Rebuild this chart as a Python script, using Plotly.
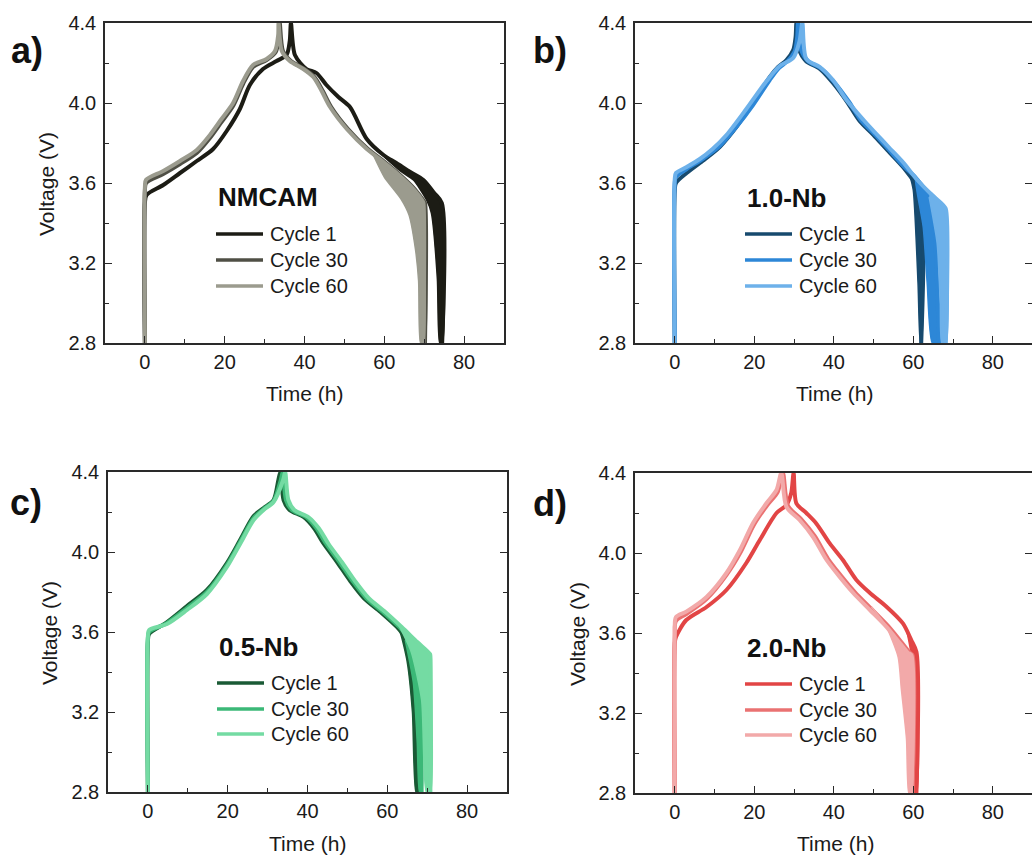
import plotly.graph_objects as go

W, H = 1032, 856
FONT = "Liberation Sans, Arial, sans-serif"

cycle_names = ["Cycle 1", "Cycle 30", "Cycle 60"]
panel_letters = ["a)", "b)", "c)", "d)"]
sample_names = ["NMCAM", "1.0-Nb", "0.5-Nb", "2.0-Nb"]
x_ticks = [0, 20, 40, 60, 80]
y_ticks = [2.8, 3.2, 3.6, 4.0, 4.4]

# ---------------- NMCAM ----------------
nmcam_c1_chg_t = [0, 0, 0.4, 4.6, 8.8, 13.0, 17.1, 20.5, 23.8, 26.3, 29.6, 33.0, 35.5, 36.3, 36.6]
nmcam_c1_chg_v = [2.80, 3.50, 3.54, 3.59, 3.65, 3.71, 3.77, 3.86, 3.97, 4.09, 4.17, 4.21, 4.24, 4.31, 4.40]
nmcam_c1_dis_t = [37.6, 40.5, 43.0, 45.5, 48.5, 51.4, 55.6, 59.8, 63.0, 66.5, 69.8, 72.5, 74.4, 74.5]
nmcam_c1_dis_v = [4.24, 4.17, 4.15, 4.09, 4.03, 3.98, 3.82, 3.74, 3.70, 3.655, 3.615, 3.55, 3.50, 2.80]
nmcam_c1_end_t = [60.0, 64.0, 67.3, 70.6, 71.8, 73.3, 73.9]
nmcam_c1_end_v = [3.73, 3.66, 3.615, 3.515, 3.45, 3.12, 2.80]

nmcam_c30_chg_t = [0, 0, 0.3, 4.6, 8.8, 13.0, 16.3, 19.2, 22.1, 24.6, 27.1, 30.5, 32.8, 33.6, 33.8]
nmcam_c30_chg_v = [2.80, 3.56, 3.60, 3.645, 3.695, 3.75, 3.825, 3.905, 3.985, 4.095, 4.18, 4.215, 4.255, 4.33, 4.40]
nmcam_c30_dis_t = [34.6, 36.6, 40.0, 42.5, 44.6, 46.7, 50.9, 55.9, 59.8, 63.4, 67.6, 69.9, 70.2, 70.2]
nmcam_c30_dis_v = [4.26, 4.21, 4.17, 4.13, 4.06, 3.98, 3.87, 3.77, 3.71, 3.65, 3.57, 3.51, 3.50, 2.80]
nmcam_c30_end_t = [68.5, 69.3, 69.8]
nmcam_c30_end_v = [3.54, 3.20, 2.80]

nmcam_c60_chg_t = [0, 0, 0.25, 4.6, 8.8, 13.0, 16.3, 19.2, 22.1, 24.6, 27.1, 30.5, 32.6, 33.4, 33.5]
nmcam_c60_chg_v = [2.80, 3.58, 3.615, 3.66, 3.71, 3.765, 3.84, 3.92, 4.00, 4.11, 4.19, 4.22, 4.26, 4.34, 4.40]
nmcam_c60_dis_t = [34.3, 36.3, 39.7, 42.2, 44.3, 46.4, 50.6, 55.6, 59.5, 63.1, 67.3, 69.6, 69.8, 69.8]
nmcam_c60_dis_v = [4.26, 4.21, 4.17, 4.13, 4.06, 3.98, 3.87, 3.77, 3.71, 3.65, 3.57, 3.51, 3.50, 2.80]
nmcam_c60_end_t = [57.0, 60.0, 64.2, 66.2, 67.8, 68.6, 69.1]
nmcam_c60_end_v = [3.75, 3.63, 3.52, 3.44, 3.27, 3.11, 2.80]

# ---------------- 1.0-Nb ----------------
nb10_c1_chg_t = [0, 0, 0.3, 3.0, 7.0, 11.3, 15.5, 19.7, 23.9, 26.0, 28.1, 29.8, 30.4, 30.6]
nb10_c1_chg_v = [2.80, 3.56, 3.60, 3.65, 3.71, 3.78, 3.88, 4.00, 4.13, 4.18, 4.215, 4.265, 4.33, 4.40]
nb10_c1_dis_t = [31.2, 33.0, 36.5, 39.8, 43.2, 46.5, 50.0, 53.2, 57.4, 60.5, 62.0, 62.0]
nb10_c1_dis_v = [4.27, 4.21, 4.17, 4.10, 4.01, 3.91, 3.84, 3.77, 3.68, 3.60, 3.56, 2.80]
nb10_c1_end_t = [59.0, 60.0, 61.2, 61.8]
nb10_c1_end_v = [3.65, 3.565, 3.10, 2.80]

nb10_c30_chg_t = [0, 0, 0.3, 3.0, 7.0, 11.3, 15.5, 19.7, 23.9, 26.2, 28.4, 30.2, 30.8, 31.0]
nb10_c30_chg_v = [2.80, 3.60, 3.63, 3.67, 3.72, 3.785, 3.88, 3.99, 4.115, 4.175, 4.21, 4.26, 4.33, 4.40]
nb10_c30_dis_t = [31.7, 33.5, 37.0, 40.3, 43.7, 47.0, 50.5, 53.7, 57.8, 60.5, 62.5, 64.5, 65.2, 65.7, 66.5]
nb10_c30_dis_v = [4.27, 4.21, 4.17, 4.10, 4.01, 3.91, 3.84, 3.77, 3.68, 3.63, 3.58, 3.53, 3.45, 3.26, 2.80]
nb10_c30_end_t = [60.5, 62.5, 63.5, 64.8]
nb10_c30_end_v = [3.63, 3.38, 3.10, 2.80]

nb10_c60_chg_t = [0, 0, 0.3, 3.0, 6.3, 9.5, 13.0, 18.0, 23.1, 26.4, 29.8, 31.4, 32.1]
nb10_c60_chg_v = [2.80, 3.62, 3.65, 3.68, 3.72, 3.77, 3.84, 3.97, 4.11, 4.185, 4.225, 4.31, 4.40]
nb10_c60_dis_t = [33.1, 36.5, 39.8, 43.2, 47.5, 50.5, 53.8, 57.6, 60.8, 64.2, 67.5, 68.2, 68.2]
nb10_c60_dis_v = [4.22, 4.18, 4.115, 4.015, 3.915, 3.85, 3.78, 3.70, 3.62, 3.55, 3.49, 3.47, 2.80]
nb10_c60_end_t = [64.0, 66.0, 66.8, 67.2]
nb10_c60_end_v = [3.53, 3.30, 3.00, 2.80]

# ---------------- 0.5-Nb ----------------
nb05_c1_chg_t = [0, 0, 0.3, 4.8, 9.8, 14.8, 19.8, 23.1, 26.5, 29.0, 31.5, 32.7, 33.2]
nb05_c1_chg_v = [2.80, 3.55, 3.59, 3.65, 3.73, 3.81, 3.945, 4.06, 4.18, 4.22, 4.26, 4.36, 4.40]
nb05_c1_dis_t = [34.0, 35.5, 39.0, 41.6, 44.1, 47.4, 50.7, 54.1, 58.3, 62.4, 64.5, 66.5, 67.2, 67.8]
nb05_c1_dis_v = [4.26, 4.21, 4.175, 4.12, 4.04, 3.95, 3.855, 3.77, 3.70, 3.625, 3.57, 3.46, 3.30, 2.80]
nb05_c1_end_t = [62.0, 63.2, 65.0, 66.3, 67.2]
nb05_c1_end_v = [3.64, 3.60, 3.45, 3.20, 2.80]

nb05_c30_chg_t = [0, 0, 0.3, 4.8, 9.8, 14.8, 19.8, 23.1, 26.5, 29.0, 31.5, 33.3, 33.8]
nb05_c30_chg_v = [2.80, 3.57, 3.60, 3.645, 3.72, 3.80, 3.935, 4.05, 4.17, 4.215, 4.255, 4.36, 4.40]
nb05_c30_dis_t = [34.6, 36.1, 39.6, 42.2, 44.7, 48.0, 51.3, 54.7, 58.9, 63.0, 66.0, 67.5, 68.3, 68.6]
nb05_c30_dis_v = [4.26, 4.21, 4.175, 4.12, 4.04, 3.95, 3.855, 3.77, 3.70, 3.625, 3.55, 3.48, 3.30, 2.80]
nb05_c30_end_t = [64.5, 66.5, 67.5, 68.1]
nb05_c30_end_v = [3.56, 3.35, 3.05, 2.80]

nb05_c60_chg_t = [0, 0, 0.3, 4.8, 9.8, 14.8, 19.8, 23.1, 26.5, 29.0, 31.5, 33.9, 34.4]
nb05_c60_chg_v = [2.80, 3.58, 3.61, 3.64, 3.71, 3.79, 3.925, 4.04, 4.16, 4.21, 4.25, 4.36, 4.40]
nb05_c60_dis_t = [35.2, 36.7, 40.2, 42.8, 45.3, 48.6, 51.9, 55.3, 59.5, 63.6, 67.5, 70.7, 70.8, 70.8]
nb05_c60_dis_v = [4.26, 4.21, 4.175, 4.12, 4.04, 3.95, 3.855, 3.77, 3.70, 3.625, 3.55, 3.49, 3.48, 2.80]
nb05_c60_end_t = [63.0, 66.0, 68.6, 69.8]
nb05_c60_end_v = [3.63, 3.50, 3.26, 2.80]

# ---------------- 2.0-Nb ----------------
nb20_c1_chg_t = [0, 0, 0.3, 2.9, 8.0, 13.0, 18.0, 21.4, 25.6, 28.1, 29.3, 29.9]
nb20_c1_chg_v = [2.80, 3.55, 3.58, 3.665, 3.73, 3.815, 3.95, 4.065, 4.20, 4.24, 4.30, 4.40]
nb20_c1_dis_t = [30.6, 33.1, 35.6, 39.0, 42.3, 45.7, 49.1, 53.2, 57.4, 59.5, 60.8, 60.8]
nb20_c1_dis_v = [4.248, 4.20, 4.148, 4.048, 3.965, 3.865, 3.80, 3.733, 3.648, 3.565, 3.505, 2.80]
nb20_c1_end_t = [58.5, 59.8, 60.2]
nb20_c1_end_v = [3.60, 3.45, 2.80]

nb20_c30_chg_t = [0, 0, 0.3, 2.9, 8.0, 13.0, 16.6, 19.9, 23.3, 25.9, 27.2]
nb20_c30_chg_v = [2.80, 3.58, 3.66, 3.695, 3.77, 3.89, 4.005, 4.14, 4.24, 4.305, 4.40]
nb20_c30_dis_t = [28.5, 31.8, 35.2, 38.6, 41.9, 45.3, 49.5, 53.6, 57.0, 59.2, 59.8, 59.8]
nb20_c30_dis_v = [4.235, 4.17, 4.085, 3.97, 3.885, 3.805, 3.72, 3.637, 3.555, 3.50, 3.49, 2.80]
nb20_c30_end_t = [57.0, 58.6, 59.3]
nb20_c30_end_v = [3.555, 3.20, 2.80]

nb20_c60_chg_t = [0, 0, 0.3, 2.9, 8.0, 13.0, 16.4, 19.7, 23.1, 25.6, 26.8]
nb20_c60_chg_v = [2.80, 3.60, 3.68, 3.707, 3.78, 3.90, 4.015, 4.15, 4.25, 4.315, 4.40]
nb20_c60_dis_t = [28.1, 31.4, 34.8, 38.2, 41.5, 44.9, 49.1, 53.2, 56.6, 58.7, 59.5, 59.5]
nb20_c60_dis_v = [4.23, 4.165, 4.08, 3.965, 3.88, 3.80, 3.715, 3.632, 3.55, 3.50, 3.49, 2.80]
nb20_c60_end_t = [49.5, 53.0, 56.2, 57.0, 58.3, 58.9]
nb20_c60_end_v = [3.73, 3.64, 3.48, 3.32, 3.07, 2.80]

# line colours per sample: cycle 1, cycle 30, cycle 60
nmcam_colors = ["#1c1c15", "#4f4f45", "#9b9b8e"]
nb10_colors = ["#174a6e", "#2d87d7", "#6db1ea"]
nb05_colors = ["#1a5a35", "#3bb877", "#74dba3"]
nb20_colors = ["#e24545", "#ea7272", "#f2a9a9"]

panels = [
    dict(colors=nmcam_colors, cycles=[
        (nmcam_c1_chg_t, nmcam_c1_chg_v, nmcam_c1_dis_t, nmcam_c1_dis_v, nmcam_c1_end_t, nmcam_c1_end_v),
        (nmcam_c30_chg_t, nmcam_c30_chg_v, nmcam_c30_dis_t, nmcam_c30_dis_v, nmcam_c30_end_t, nmcam_c30_end_v),
        (nmcam_c60_chg_t, nmcam_c60_chg_v, nmcam_c60_dis_t, nmcam_c60_dis_v, nmcam_c60_end_t, nmcam_c60_end_v)]),
    dict(colors=nb10_colors, cycles=[
        (nb10_c1_chg_t, nb10_c1_chg_v, nb10_c1_dis_t, nb10_c1_dis_v, nb10_c1_end_t, nb10_c1_end_v),
        (nb10_c30_chg_t, nb10_c30_chg_v, nb10_c30_dis_t, nb10_c30_dis_v, nb10_c30_end_t, nb10_c30_end_v),
        (nb10_c60_chg_t, nb10_c60_chg_v, nb10_c60_dis_t, nb10_c60_dis_v, nb10_c60_end_t, nb10_c60_end_v)]),
    dict(colors=nb05_colors, cycles=[
        (nb05_c1_chg_t, nb05_c1_chg_v, nb05_c1_dis_t, nb05_c1_dis_v, nb05_c1_end_t, nb05_c1_end_v),
        (nb05_c30_chg_t, nb05_c30_chg_v, nb05_c30_dis_t, nb05_c30_dis_v, nb05_c30_end_t, nb05_c30_end_v),
        (nb05_c60_chg_t, nb05_c60_chg_v, nb05_c60_dis_t, nb05_c60_dis_v, nb05_c60_end_t, nb05_c60_end_v)]),
    dict(colors=nb20_colors, cycles=[
        (nb20_c1_chg_t, nb20_c1_chg_v, nb20_c1_dis_t, nb20_c1_dis_v, nb20_c1_end_t, nb20_c1_end_v),
        (nb20_c30_chg_t, nb20_c30_chg_v, nb20_c30_dis_t, nb20_c30_dis_v, nb20_c30_end_t, nb20_c30_end_v),
        (nb20_c60_chg_t, nb20_c60_chg_v, nb20_c60_dis_t, nb20_c60_dis_v, nb20_c60_end_t, nb20_c60_end_v)]),
]

# plot boxes in pixels: left, right, top, bottom, x-range upper limit
boxes = [
    (105, 504, 23, 343, 90.0),
    (635, 1032, 23, 343, 89.87),
    (108, 507, 472, 792, 90.0),
    (635, 1032, 473, 793, 89.87),
]

fig = go.Figure()
annotations = []
shapes = []
axis_line = "#2a2a2a"
tick_font = dict(family=FONT, size=20, color="#1a1a1a")

for i, (panel, box) in enumerate(zip(panels, boxes)):
    n = "" if i == 0 else str(i + 1)
    xa, ya = "x" + n, "y" + n
    left, right, top, bottom, xmax = box

    fig.layout["xaxis" + n] = dict(
        domain=[left / W, right / W], anchor=ya, range=[-10, xmax], automargin=False,
        tickvals=x_ticks, ticks="inside", ticklen=7, tickwidth=1.4, tickcolor=axis_line,
        minor=dict(dtick=10, tick0=0, ticks="inside", ticklen=4, tickwidth=1.2, tickcolor=axis_line),
        showline=True, linecolor=axis_line, linewidth=1.5, mirror=True,
        showgrid=False, zeroline=False, tickfont=tick_font, ticklabelstandoff=0,
    )
    fig.layout["yaxis" + n] = dict(
        domain=[1 - bottom / H, 1 - top / H], anchor=xa, range=[2.8, 4.4], automargin=False,
        tickvals=y_ticks, tickformat=".1f", ticks="inside", ticklen=7, tickwidth=1.4, tickcolor=axis_line,
        minor=dict(dtick=0.2, tick0=2.8, ticks="inside", ticklen=4, tickwidth=1.2, tickcolor=axis_line),
        showline=True, linecolor=axis_line, linewidth=1.5, mirror="ticks",
        showgrid=False, zeroline=False, tickfont=tick_font, ticklabelstandoff=3,
    )

    for color, (chg_t, chg_v, dis_t, dis_v, end_t, end_v) in zip(panel["colors"], panel["cycles"]):
        # spread of the end-of-discharge step, between the curve and its lower edge
        tail = [(t, v) for t, v in zip(dis_t, dis_v) if t >= end_t[0]]
        poly_t = [p[0] for p in tail] + end_t[::-1]
        poly_v = [p[1] for p in tail] + end_v[::-1]
        fig.add_trace(go.Scatter(
            x=poly_t, y=poly_v, mode="lines", fill="toself", fillcolor=color,
            line=dict(color=color, width=1.5, shape="spline", smoothing=0.6), xaxis=xa, yaxis=ya,
            showlegend=False, hoverinfo="skip"))
        fig.add_trace(go.Scatter(
            x=chg_t + dis_t, y=chg_v + dis_v, mode="lines",
            line=dict(color=color, width=4.0, shape="spline", smoothing=0.8),
            xaxis=xa, yaxis=ya, showlegend=False))

# axis titles
x_title_pos = [(304, 393), (834, 393), (307, 843), (835, 843)]
y_title_pos = [(46, 184), None, (49, 633), (577, 634)]
for pos in x_title_pos:
    annotations.append(dict(text="Time (h)", x=pos[0] / W, y=1 - pos[1] / H, xref="paper", yref="paper",
                            showarrow=False, xanchor="center", yanchor="middle",
                            font=dict(family=FONT, size=21, color="#1a1a1a")))
for pos in y_title_pos:
    if pos is None:
        continue
    annotations.append(dict(text="Voltage (V)", x=pos[0] / W, y=1 - pos[1] / H, xref="paper", yref="paper",
                            showarrow=False, xanchor="center", yanchor="middle", textangle=-90,
                            font=dict(family=FONT, size=21, color="#1a1a1a")))

# panel letters
letter_pos = [(27, 50), (550, 50), (26, 502), (550, 503)]
for letter, pos in zip(panel_letters, letter_pos):
    annotations.append(dict(text="<b>%s</b>" % letter, x=pos[0] / W, y=1 - pos[1] / H, xref="paper", yref="paper",
                            showarrow=False, xanchor="center", yanchor="middle",
                            font=dict(family=FONT, size=36, color="#111111")))

# sample names and per-panel cycle keys
label_pos = [(216, 197), (745, 198), (217, 647), (745, 648)]
key_rows = [(234, 260, 286), (234, 260, 286), (683, 709, 734), (684, 710, 735)]
for name, pos, rows, panel in zip(sample_names, label_pos, key_rows, panels):
    annotations.append(dict(text="<b>%s</b>" % name, x=pos[0] / W, y=1 - pos[1] / H, xref="paper", yref="paper",
                            showarrow=False, xanchor="left", yanchor="middle",
                            font=dict(family=FONT, size=26, color="#111111")))
    x0 = pos[0]
    for cname, color, ry in zip(cycle_names, panel["colors"], rows):
        shapes.append(dict(type="line", xref="paper", yref="paper",
                           x0=x0 / W, x1=(x0 + 47) / W, y0=1 - ry / H, y1=1 - ry / H,
                           line=dict(color=color, width=3.6)))
        annotations.append(dict(text=cname, x=(x0 + 52) / W, y=1 - ry / H, xref="paper", yref="paper",
                                showarrow=False, xanchor="left", yanchor="middle",
                                font=dict(family=FONT, size=20, color="#1a1a1a")))

fig.update_layout(
    template="none",
    width=W, height=H, margin=dict(l=0, r=0, t=0, b=0, pad=0, autoexpand=False),
    paper_bgcolor="white", plot_bgcolor="white",
    showlegend=False, annotations=annotations, shapes=shapes,
)

fig.write_html("out.html")
